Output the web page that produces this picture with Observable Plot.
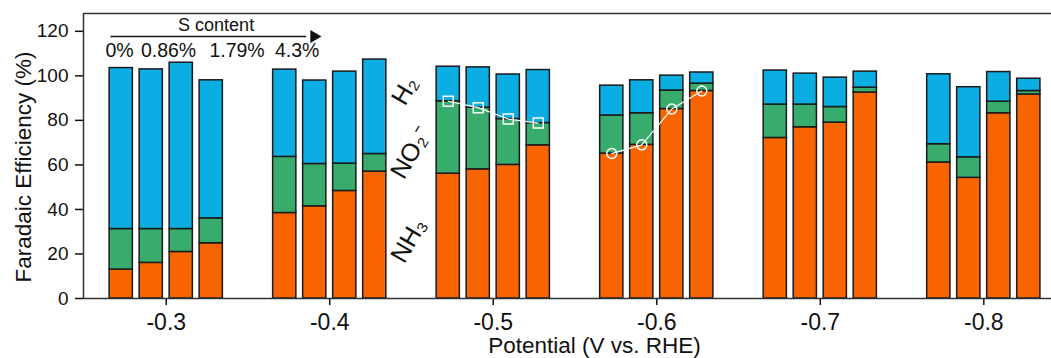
<!DOCTYPE html>
<html>
<head>
<meta charset="utf-8">
<script src="https://cdn.jsdelivr.net/npm/d3@7"></script>
<script src="https://cdn.jsdelivr.net/npm/@observablehq/plot@0.6"></script>
<style>
  body { margin: 0; background: #fff; }
  #chart svg { display: block; }
  g[aria-label^="x-axis"] text { font-size: 23px; }
  g[aria-label^="y-axis"] text { font-size: 19px; }
  g[aria-label^="x-axis"] path, g[aria-label^="x-axis"] line,
  g[aria-label^="y-axis"] path, g[aria-label^="y-axis"] line { stroke-width: 1.5px; }
</style>
</head>
<body>
<div id="chart"></div>
<script>
// Applied potentials (V vs. RHE) and the four sulfur contents measured at each
const potentials = [-0.3, -0.4, -0.5, -0.6, -0.7, -0.8];
const sContent = ["0%", "0.86%", "1.79%", "4.3%"];
const species = ["NH₃", "NO₂⁻", "H₂"];
const speciesColors = ["#F86400", "#38AC6C", "#0AAEE2"];
const yTicks = [0, 20, 40, 60, 80, 100, 120];

// Faradaic efficiency (%) per potential (rows) and sulfur content (columns)
const nh3 = [
  [13.0, 16.0, 20.9, 24.8],
  [38.4, 41.4, 48.3, 57.0],
  [56.1, 58.0, 60.0, 68.8],
  [65.1, 69.0, 85.1, 93.2],
  [72.1, 76.9, 79.0, 92.5],
  [61.1, 54.2, 83.2, 91.6]
];
const no2 = [
  [18.2, 15.2, 10.3, 11.2],
  [25.2, 19.0, 12.3, 7.9],
  [32.5, 27.7, 20.6, 10.0],
  [17.1, 14.2, 8.3, 3.3],
  [15.0, 10.2, 7.0, 2.2],
  [8.2, 9.2, 5.2, 1.6]
];
const h2 = [
  [72.3, 71.7, 74.7, 62.0],
  [39.2, 37.5, 41.3, 42.4],
  [15.5, 18.1, 20.0, 23.8],
  [13.4, 14.8, 6.7, 5.0],
  [15.3, 13.9, 13.2, 7.2],
  [31.4, 31.5, 13.3, 5.5]
];

// Bar layout within each potential group (in volts along the x scale)
const pitch = 0.01835;
const half = 0.0071;
const barCenter = (p, i) => p - (i - 1.5) * pitch;

// Stacked segments: NH3 at the bottom, then NO2-, then H2
const segments = [];
potentials.forEach((p, g) => {
  sContent.forEach((s, i) => {
    const xc = barCenter(p, i);
    let base = 0;
    [nh3, no2, h2].forEach((series, k) => {
      const v = series[g][i];
      segments.push({species: species[k], s, x1: xc - half, x2: xc + half, y1: base, y2: base + v});
      base += v;
    });
  });
});

// Trend markers: NH3 + NO2- at -0.5 V, NH3 alone at -0.6 V
const g05 = potentials.indexOf(-0.5);
const g06 = potentials.indexOf(-0.6);
const squares = sContent.map((s, i) => ({x: barCenter(-0.5, i), y: nh3[g05][i] + no2[g05][i]}));
const circles = sContent.map((s, i) => ({x: barCenter(-0.6, i), y: nh3[g06][i]}));

const xDomain = [-0.2494, -0.8414];
const yDomain = [0, 128];
const ink = "#111";
const axisInk = "#333";

// Annotation placement
const speciesLabels = [
  {text: species[0], x: -0.4484, y: 26.1},
  {text: species[1], x: -0.4496, y: 65.5},
  {text: species[2], x: -0.4460, y: 93.3}
];
const sLabelX = [-0.2714, -0.3014, -0.3433, -0.3801];
const sLabels = sContent.map((t, i) => ({text: t, x: sLabelX[i], y: 111.4}));
const arrowY = 117.7;

const chart = Plot.plot({
  width: 1051,
  height: 358,
  marginLeft: 83,
  marginRight: 0,
  marginTop: 13,
  marginBottom: 60,
  style: {fontFamily: '"Liberation Sans", Arial, sans-serif', fontSize: "19px", color: ink, background: "#fff"},
  x: {type: "linear", domain: xDomain, ticks: potentials, tickFormat: d => d.toFixed(1), tickSize: 7, tickPadding: 8, label: null},
  y: {domain: yDomain, ticks: yTicks, tickSize: 8, tickPadding: 7, label: null},
  color: {domain: species, range: speciesColors},
  marks: [
    Plot.rect(segments, {x1: "x1", x2: "x2", y1: "y1", y2: "y2", fill: "species", stroke: "#1a1a1a", strokeWidth: 1.5}),
    Plot.line(squares, {x: "x", y: "y", stroke: "white", strokeWidth: 1.2}),
    Plot.dot(squares, {x: "x", y: "y", symbol: "square", r: 5.6, stroke: "white", strokeWidth: 1.5, fill: "none"}),
    Plot.line(circles, {x: "x", y: "y", stroke: "white", strokeWidth: 1.2}),
    Plot.dot(circles, {x: "x", y: "y", symbol: "circle", r: 5, stroke: "white", strokeWidth: 1.5, fill: "none"}),
    // frame: left, bottom and top edges
    Plot.ruleY([yDomain[0]], {stroke: axisInk, strokeWidth: 1.5}),
    Plot.ruleY([yDomain[1]], {stroke: axisInk, strokeWidth: 1.5}),
    Plot.ruleX([xDomain[0]], {stroke: axisInk, strokeWidth: 1.5}),
    // species labels beside the -0.5 V group
    Plot.text(speciesLabels, {x: "x", y: "y", text: "text", rotate: -60, fontSize: 25, fill: ink}),
    // sulfur content arrow
    Plot.text(["S content"], {x: () => -0.3305, y: () => 122.7, fontSize: 18, fill: ink}),
    Plot.link([{x1: -0.2659, x2: -0.3855, y: arrowY}], {x1: "x1", x2: "x2", y1: "y", y2: "y", stroke: ink, strokeWidth: 1.5}),
    Plot.dot([{x: -0.3904, y: arrowY}], {x: "x", y: "y", symbol: "triangle", rotate: 90, r: 4.8, fill: ink, stroke: "none"}),
    Plot.text(sLabels, {x: "x", y: "y", text: "text", fontSize: 19.5, fill: ink}),
    // axis titles
    Plot.text(["Faradaic Efficiency (%)"], {frameAnchor: "left", textAnchor: "middle", lineAnchor: "middle", rotate: -90, dx: -60, dy: 11, fontSize: 22.5, fill: ink}),
    Plot.text(["Potential (V vs. RHE)"], {frameAnchor: "bottom", textAnchor: "middle", lineAnchor: "middle", dx: 27, dy: 47, fontSize: 22.5, fill: ink})
  ]
});

document.getElementById("chart").appendChild(chart);
</script>
</body>
</html>
